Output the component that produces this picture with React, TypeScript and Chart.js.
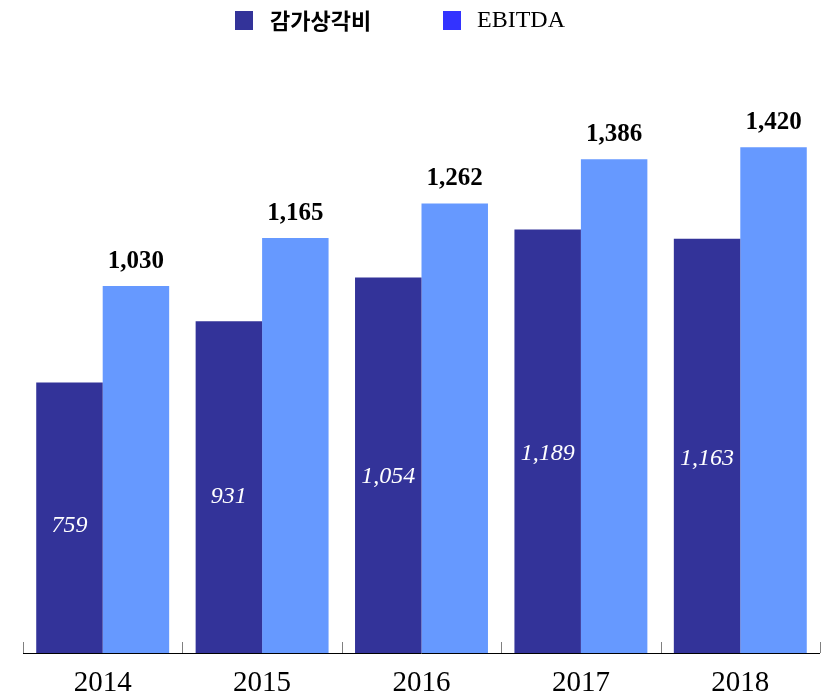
import React, { useEffect, useRef } from "react";
import { Chart, registerables } from "chart.js";

Chart.register(...registerables);

const years = ["2014", "2015", "2016", "2017", "2018"];
const depreciation = [759, 931, 1054, 1189, 1163];
const ebitda = [1030, 1165, 1262, 1386, 1420];
const seriesNames = ["감가상각비", "EBITDA"];
const barColors = ["#333399", "#6699FF"];
const legendColors = ["#333399", "#3333FF"];

const fmt = (v: number) => v.toLocaleString("en-US");

const labelsPlugin = {
  id: "customLabels",
  afterDatasetsDraw(chart: any) {
    const ctx = chart.ctx;
    ctx.save();
    const m0 = chart.getDatasetMeta(0);
    m0.data.forEach((bar: any, i: number) => {
      const top = bar.y;
      const bottom = bar.base;
      const y = top + (bottom - top) * 0.53;
      ctx.font = "italic 24px 'Liberation Serif', serif";
      ctx.fillStyle = "#ffffff";
      ctx.textAlign = "center";
      ctx.textBaseline = "middle";
      ctx.fillText(fmt(depreciation[i]), bar.x, y);
    });
    const m1 = chart.getDatasetMeta(1);
    m1.data.forEach((bar: any, i: number) => {
      ctx.font = "bold 25px 'Liberation Serif', serif";
      ctx.fillStyle = "#000000";
      ctx.textAlign = "center";
      ctx.textBaseline = "alphabetic";
      ctx.fillText(fmt(ebitda[i]), bar.x, bar.y - 18);
    });
    const xs = chart.scales.x;
    const area = chart.chartArea;
    const n = years.length;
    const bounds: number[] = [area.left];
    for (let i = 1; i < n; i++) {
      bounds.push((xs.getPixelForValue(i - 1) + xs.getPixelForValue(i)) / 2);
    }
    bounds.push(area.right);
    ctx.strokeStyle = "#808080";
    ctx.lineWidth = 1;
    bounds.forEach((b) => {
      const xx = Math.round(b) + 0.5;
      ctx.beginPath();
      ctx.moveTo(xx, area.bottom - 11);
      ctx.lineTo(xx, area.bottom);
      ctx.stroke();
    });
    ctx.strokeStyle = "#000000";
    ctx.beginPath();
    ctx.moveTo(area.left, Math.round(area.bottom) + 0.5);
    ctx.lineTo(area.right, Math.round(area.bottom) + 0.5);
    ctx.stroke();
    ctx.restore();
  },
  afterDraw(chart: any) {
    const ctx = chart.ctx;
    ctx.save();
    const items = [
      { x: 235, textX: 270, font: "bold 22px 'Noto Sans CJK KR', sans-serif" },
      { x: 443, textX: 477, font: "24px 'Liberation Serif', serif" },
    ];
    items.forEach((it, i) => {
      ctx.fillStyle = legendColors[i];
      ctx.fillRect(it.x, 11, 18, 19);
      ctx.font = it.font;
      ctx.fillStyle = "#000000";
      ctx.textAlign = "left";
      ctx.textBaseline = "middle";
      ctx.fillText(seriesNames[i], it.textX, 21);
    });
    ctx.restore();
  },
};

export default function App() {
  const ref = useRef<HTMLCanvasElement | null>(null);
  useEffect(() => {
    if (!ref.current) return;
    const chart = new Chart(ref.current, {
      type: "bar",
      data: {
        labels: years,
        datasets: [
          {
            label: seriesNames[0],
            data: depreciation,
            backgroundColor: barColors[0],
            borderWidth: 0,
          },
          {
            label: seriesNames[1],
            data: ebitda,
            backgroundColor: barColors[1],
            borderWidth: 0,
          },
        ],
      },
      options: {
        responsive: true,
        maintainAspectRatio: false,
        animation: false,
        layout: { padding: { left: 23, right: 6, top: 83, bottom: 0 } },
        plugins: {
          legend: { display: false },
          tooltip: { enabled: false },
        },
        datasets: {
          bar: { barPercentage: 1, categoryPercentage: 0.834 },
        },
        scales: {
          x: {
            grid: { display: false, drawTicks: false },
            border: { display: false },
            afterFit: (scale: any) => {
              scale.height = 41;
            },
            ticks: {
              color: "#000000",
              padding: 16,
              font: { family: "'Liberation Serif', serif", size: 29, lineHeight: 1 },
            },
          },
          y: {
            display: false,
            min: 0,
            max: 1600,
          },
        },
      },
      plugins: [labelsPlugin],
    });
    return () => chart.destroy();
  }, []);
  return (
    <div style={{ position: "absolute", left: 0, top: 0, width: 826, height: 694, background: "#ffffff" }}>
      <canvas ref={ref} />
    </div>
  );
}
